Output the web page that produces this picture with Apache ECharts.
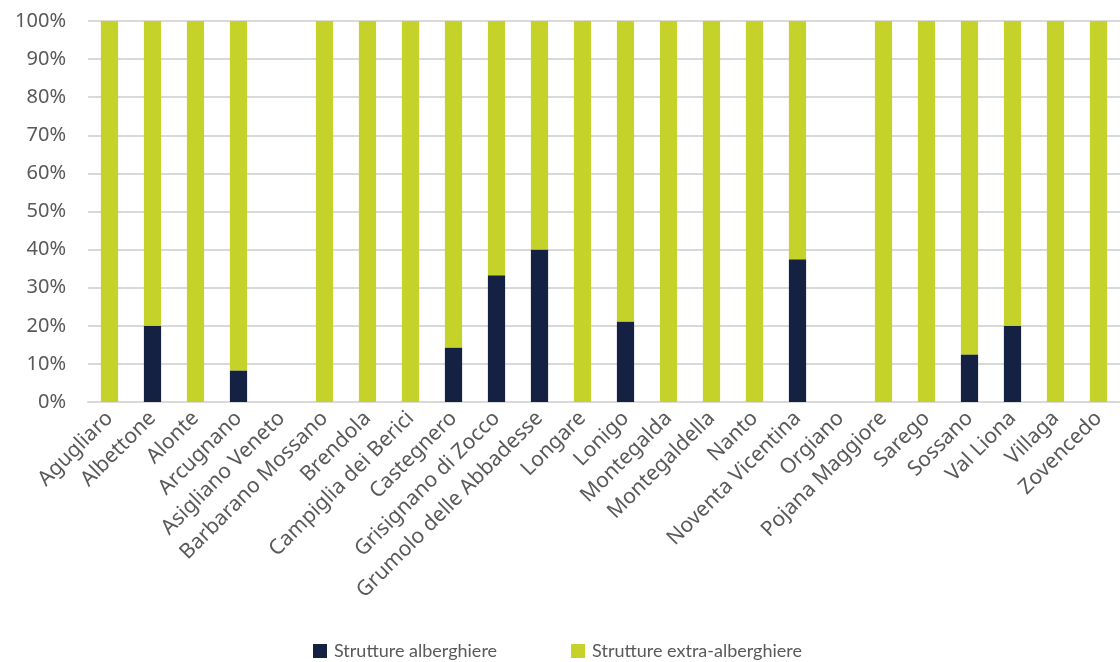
<!DOCTYPE html>
<html>
<head>
<meta charset="utf-8">
<script src="https://cdn.jsdelivr.net/npm/echarts@6/dist/echarts.min.js"></script>
<style>
  html, body { margin: 0; padding: 0; background: #ffffff; }
  #chart { width: 1120px; height: 662px; }
</style>
</head>
<body>
<div id="chart"></div>
<script>
// Comuni dell'area berica
const categories = [
  'Agugliaro', 'Albettone', 'Alonte', 'Arcugnano', 'Asigliano Veneto',
  'Barbarano Mossano', 'Brendola', 'Campiglia dei Berici', 'Castegnero',
  'Grisignano di Zocco', 'Grumolo delle Abbadesse', 'Longare', 'Lonigo',
  'Montegalda', 'Montegaldella', 'Nanto', 'Noventa Vicentina', 'Orgiano',
  'Pojana Maggiore', 'Sarego', 'Sossano', 'Val Liona', 'Villaga', 'Zovencedo'
];

// Quota percentuale delle strutture per tipologia
const alberghiere = [
  0, 20, 0, 8.3, 0,
  0, 0, 0, 14.3,
  33.3, 40, 0, 21.1,
  0, 0, 0, 37.5, 0,
  0, 0, 12.5, 20, 0, 0
];
const extraAlberghiere = [
  100, 80, 100, 91.7, 0,
  100, 100, 100, 85.7,
  66.7, 60, 100, 78.9,
  100, 100, 100, 62.5, 0,
  100, 100, 87.5, 80, 100, 100
];

const seriesNames = ['Strutture alberghiere', 'Strutture extra-alberghiere'];

const textColor = '#595959';
const fontFamily = '"Noto Sans", "Open Sans", sans-serif';
const legendFont = 'Lato, "Noto Sans", sans-serif';

const chart = echarts.init(document.getElementById('chart'), null, { renderer: 'canvas' });

chart.setOption({
  animation: false,
  textStyle: { fontFamily: fontFamily },
  grid: { left: 88, right: 0, top: 21, bottom: 260, containLabel: false },
  legend: {
    top: 637,
    left: 308,
    itemWidth: 14,
    itemHeight: 14,
    itemGap: 74,
    icon: 'rect',
    textStyle: { fontSize: 18, color: textColor, fontFamily: legendFont, padding: [0, 0, 0, 2] },
    data: seriesNames
  },
  xAxis: {
    type: 'category',
    data: categories,
    axisLine: { show: true, lineStyle: { color: '#d9d9d9', width: 2 } },
    axisTick: { show: false },
    axisLabel: {
      interval: 0,
      rotate: 45,
      fontSize: 21,
      color: textColor,
      margin: 13,
      fontFamily: fontFamily
    }
  },
  yAxis: {
    type: 'value',
    min: 0,
    max: 100,
    interval: 10,
    axisLine: { show: false },
    axisTick: { show: false },
    splitLine: { lineStyle: { color: '#d9d9d9', width: 2 } },
    axisLabel: {
      formatter: '{value}%',
      fontSize: 20,
      color: textColor,
      margin: 22,
      fontFamily: fontFamily
    }
  },
  series: [
    {
      name: seriesNames[0],
      type: 'bar',
      stack: 'tot',
      barWidth: '40%',
      itemStyle: { color: '#152142' },
      data: alberghiere
    },
    {
      name: seriesNames[1],
      type: 'bar',
      stack: 'tot',
      barWidth: '40%',
      itemStyle: { color: '#c5d22a' },
      data: extraAlberghiere
    }
  ]
});
</script>
</body>
</html>
